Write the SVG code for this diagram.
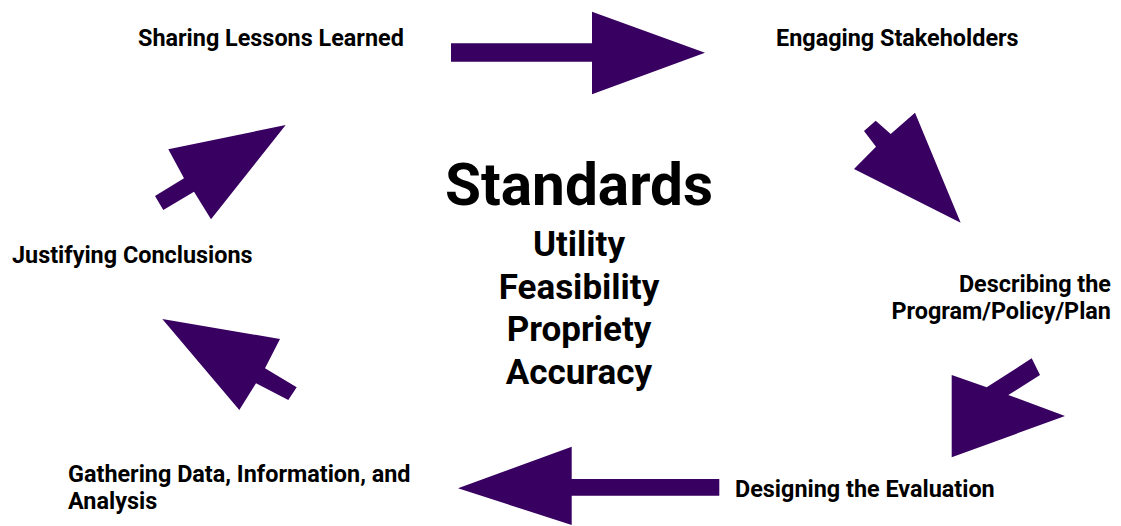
<svg xmlns="http://www.w3.org/2000/svg" width="1121" height="526" viewBox="0 0 1121 526">
<style>
.lbl{font-family:Roboto,"Liberation Sans",sans-serif;font-weight:700;font-size:23.4px;fill:#000}
.std{font-family:Roboto,"Liberation Sans",sans-serif;font-weight:700;fill:#000;text-anchor:middle}
.arr{fill:#380061}
</style>
<rect width="1121" height="526" fill="#fff"/>
<g id="center">
<text class="std" x="579" y="205" font-size="58.5">Standards</text>
<text class="std" x="579" y="256" font-size="35">Utility</text>
<text class="std" x="579" y="298.5" font-size="35">Feasibility</text>
<text class="std" x="579" y="341" font-size="35">Propriety</text>
<text class="std" x="579" y="383.5" font-size="35">Accuracy</text>
</g>
<g id="n1"><text class="lbl" x="138" y="46">Sharing Lessons Learned</text></g>
<g id="n2"><text class="lbl" x="776" y="46">Engaging Stakeholders</text></g>
<g id="n3"><text class="lbl" x="1111" y="291.5" text-anchor="end">Describing the</text><text class="lbl" x="1111" y="318.5" text-anchor="end">Program/Policy/Plan</text></g>
<g id="n4"><text class="lbl" x="735" y="497">Designing the Evaluation</text></g>
<g id="n5"><text class="lbl" x="68" y="481.5">Gathering Data, Information, and</text><text class="lbl" x="68" y="508.5">Analysis</text></g>
<g id="n6"><text class="lbl" x="12" y="263">Justifying Conclusions</text></g>
<g id="connectors">
<polygon class="arr" points="451,43.3 592,43.3 592,11.7 705,52.7 592,94.3 592,61.7 451,61.7"/>
<polygon class="arr" points="875.7,120.7 890.7,134 915,112.7 960.7,222.7 854,169 876,146.7 864,131"/>
<polygon class="arr" points="1031.7,358.3 1040,375 1008.3,395 1065,416 951.7,457.3 951.7,375 986.7,387.3"/>
<polygon class="arr" points="719.3,479 571.7,479 571.7,446.7 458,488.3 571.7,525 571.7,495.7 719.3,495.7"/>
<polygon class="arr" points="296.7,387.3 288.3,400 256,383.3 239.3,410 162.3,319 280,339 265,368.3"/>
<polygon class="arr" points="155,196 163.3,210 194,191.7 211,219.3 285.7,125 168.3,149.3 184,178.3"/>
</g>
</svg>
